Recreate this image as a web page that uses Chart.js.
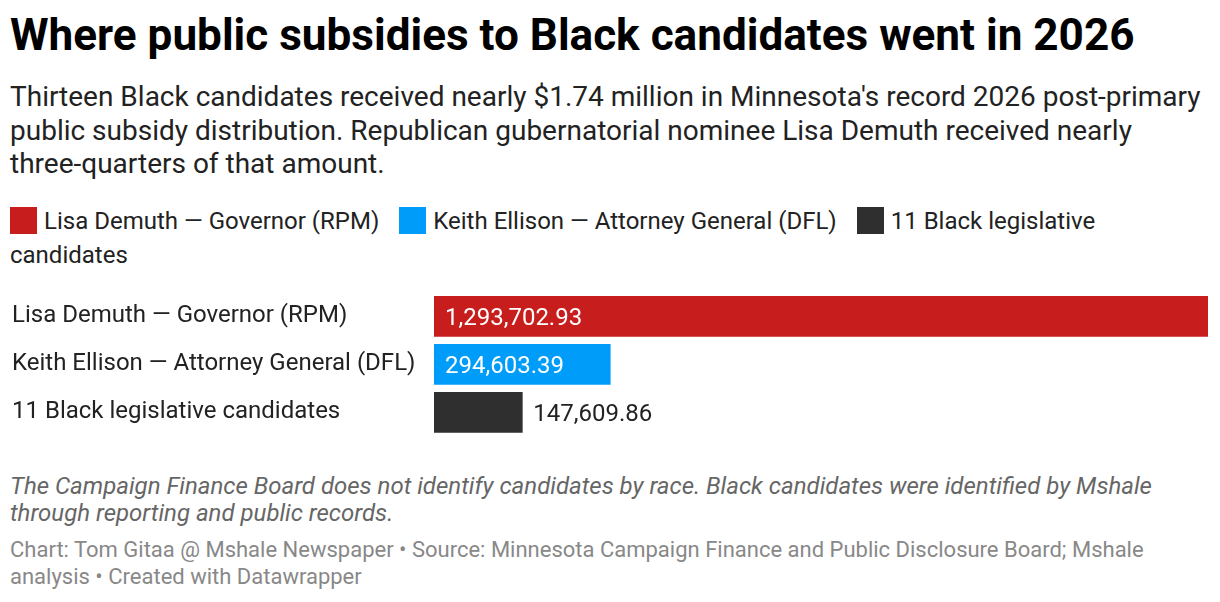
<!DOCTYPE html>
<html>
<head>
<meta charset="utf-8">
<script src="https://cdn.jsdelivr.net/npm/chart.js@4"></script>
<style>
  body { margin: 0; background: #fff; font-family: Roboto, sans-serif; width: 1220px; height: 602px; overflow: hidden; position: relative; }
  h1 { position: absolute; left: 10px; top: 10px; margin: 0; font-size: 44.1px; line-height: 50px; font-weight: 700; color: #000; white-space: nowrap; }
  .sub { position: absolute; left: 10px; top: 80px; font-size: 28px; line-height: 33.5px; color: #222; white-space: nowrap; }
  .legend { position: absolute; left: 10px; top: 203.5px; width: 1150px; font-size: 24px; line-height: 34px; color: #222; }
  .legend span.item { margin-right: 20px; white-space: nowrap; }
  .legend span.item.last { white-space: normal; }
  .legend i { display: inline-block; width: 27px; height: 27px; vertical-align: middle; margin: -4px 7px 0 0; }
  #wrap { position: absolute; left: 12px; top: 277.6px; width: 1196px; height: 172.8px; }
  .notes { position: absolute; left: 10px; top: 472.5px; font-size: 24px; line-height: 27px; color: #666; font-style: italic; white-space: nowrap; }
  .src { position: absolute; left: 10px; top: 536px; font-size: 22px; line-height: 27px; color: #888; white-space: nowrap; }
</style>
</head>
<body>
<h1>Where public subsidies to Black candidates went in 2026</h1>
<div class="sub">Thirteen Black candidates received nearly $1.74 million in Minnesota's record 2026 post-primary<br>public subsidy distribution. Republican gubernatorial nominee Lisa Demuth received nearly<br>three-quarters of that amount.</div>
<div class="legend" id="legend"></div>
<div id="wrap"><canvas id="chart"></canvas></div>
<div class="notes">The Campaign Finance Board does not identify candidates by race. Black candidates were identified by Mshale<br>through reporting and public records.</div>
<div class="src">Chart: Tom Gitaa @ Mshale Newspaper • Source: Minnesota Campaign Finance and Public Disclosure Board; Mshale<br>analysis • Created with Datawrapper</div>
<script>
const categories = ["Lisa Demuth — Governor (RPM)", "Keith Ellison — Attorney General (DFL)", "11 Black legislative candidates"];
const amounts = [1293702.93, 294603.39, 147609.86];
const barColors = ["#c71e1d", "#009cf9", "#2f2f2f"];

// legend in html so it can wrap like the original
document.getElementById("legend").innerHTML = categories
  .map((c, i) => `<span class="item${i === categories.length - 1 ? " last" : ""}"><i style="background:${barColors[i]}"></i>${c}</span>`)
  .join("");

const fmt = v => v.toLocaleString("en-US", { minimumFractionDigits: 2, maximumFractionDigits: 2 });

// value labels: inside the bar when it fits, after it otherwise
const valueLabels = {
  id: "valueLabels",
  afterDatasetsDraw(chart) {
    const ctx = chart.ctx;
    const meta = chart.getDatasetMeta(0);
    ctx.save();
    ctx.font = "24px Roboto";
    ctx.textBaseline = "middle";
    meta.data.forEach((bar, i) => {
      const text = fmt(amounts[i]);
      const w = ctx.measureText(text).width;
      const width = bar.x - bar.base;
      if (w + 22 < width) {
        ctx.fillStyle = "#fff";
        ctx.fillText(text, bar.base + 11, bar.y + 2.5);
      } else {
        ctx.fillStyle = "#222";
        ctx.fillText(text, bar.x + 11, bar.y + 2.5);
      }
    });
    ctx.restore();
  }
};

new Chart(document.getElementById("chart"), {
  type: "bar",
  data: {
    labels: categories,
    datasets: [{
      data: amounts,
      backgroundColor: barColors,
      barThickness: 40
    }]
  },
  options: {
    indexAxis: "y",
    responsive: true,
    maintainAspectRatio: false,
    animation: false,
    layout: { padding: 0 },
    plugins: { legend: { display: false }, tooltip: { enabled: false } },
    scales: {
      x: { display: false, min: 0, max: amounts[0] },
      y: {
        grid: { display: false },
        border: { display: false },
        afterFit(scale) { scale.width = 422; },
        ticks: { crossAlign: "far", padding: 0, color: "#222", font: { family: "Roboto", size: 24 } }
      }
    }
  },
  plugins: [valueLabels]
});
</script>
</body>
</html>
